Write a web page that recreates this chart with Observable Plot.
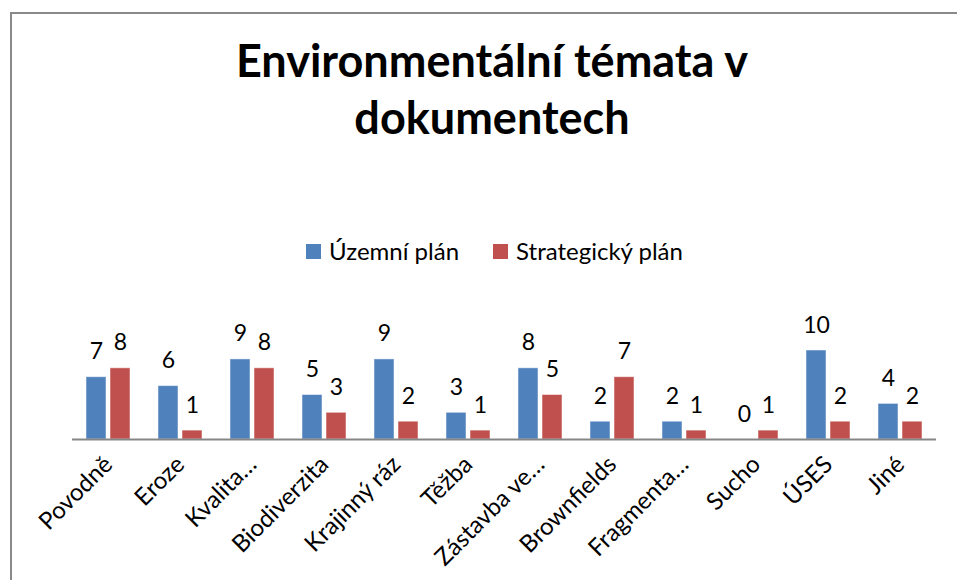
<!DOCTYPE html>
<html>
<head>
<meta charset="utf-8">
<script src="https://cdn.jsdelivr.net/npm/d3@7"></script>
<script src="https://cdn.jsdelivr.net/npm/@observablehq/plot@0.6"></script>
<style>
  html, body { margin: 0; padding: 0; background: #fff; }
  #wrap { position: relative; width: 957px; height: 580px; overflow: hidden; background: #fff; font-family: Lato, "Open Sans", sans-serif; color: #000; }
  #frame { position: absolute; left: 10px; top: 12px; width: 1200px; height: 1200px; border-left: 2px solid #898989; border-top: 2px solid #898989; }
  #title { position: absolute; left: 0; top: 32px; width: 984px; text-align: center; font-weight: 700; font-size: 45px; line-height: 57px; }
  #legend { position: absolute; left: 0; top: 239px; width: 989px; display: flex; justify-content: center; align-items: center; font-size: 24px; line-height: 24px; }
  #legend .item { display: flex; align-items: center; margin: 0 17px; }
  #legend .sw { width: 15px; height: 15px; margin-right: 8px; }
  #chart { position: absolute; left: 0; top: 270px; }
</style>
</head>
<body>
<div id="wrap">
  <div id="frame"></div>
  <div id="title">Environmentální témata v<br>dokumentech</div>
  <div id="legend"></div>
  <div id="chart"></div>
</div>
<script>
const categories = ["Povodně", "Eroze", "Kvalita…", "Biodiverzita", "Krajinný ráz", "Těžba", "Zástavba ve…", "Brownfields", "Fragmenta…", "Sucho", "ÚSES", "Jiné"];
const seriesNames = ["Územní plán", "Strategický plán"];
const uzemniPlan = [7, 6, 9, 5, 9, 3, 8, 2, 2, 0, 10, 4];
const strategickyPlan = [8, 1, 8, 3, 2, 1, 5, 7, 1, 1, 2, 2];
const seriesColors = ["#4F81BD", "#C0504D"];

const data = categories.flatMap((c, i) => [
  {cat: c, series: seriesNames[0], value: uzemniPlan[i]},
  {cat: c, series: seriesNames[1], value: strategickyPlan[i]}
]);

// legend
const legend = document.getElementById("legend");
seriesNames.forEach((s, i) => {
  const item = document.createElement("div");
  item.className = "item";
  const sw = document.createElement("div");
  sw.className = "sw";
  sw.style.background = seriesColors[i];
  const t = document.createElement("span");
  t.textContent = s;
  item.appendChild(sw);
  item.appendChild(t);
  legend.appendChild(item);
});

const chart = Plot.plot({
  width: 957,
  height: 310,
  marginTop: 80,
  marginBottom: 141,
  marginLeft: 68,
  marginRight: 17,
  style: {fontFamily: "Lato, 'Open Sans', sans-serif", fontSize: "24px", color: "#000", background: "transparent"},
  fx: {domain: categories, padding: 0, label: null, axis: null},
  x: {domain: seriesNames, axis: null, paddingInner: 0.18, paddingOuter: 0.57},
  y: {domain: [0, 10], axis: null},
  color: {domain: seriesNames, range: seriesColors},
  marks: [
    Plot.barY(data, {fx: "cat", x: "series", y: "value", fill: "series", stroke: "#ffffff", strokeOpacity: 0.5, strokeWidth: 1}),
    Plot.text(data, {fx: "cat", x: "series", y: "value", text: d => String(d.value), lineAnchor: "bottom", dy: -18, fontSize: 23, fill: "#000"}),
    Plot.ruleY([0], {stroke: "#868686", strokeWidth: 2}),
    Plot.axisFx({anchor: "bottom", label: null, tickRotate: -45, tickSize: 0, tickPadding: 21, fontSize: 24, fill: "#000"})
  ]
});
document.getElementById("chart").appendChild(chart);
</script>
</body>
</html>
